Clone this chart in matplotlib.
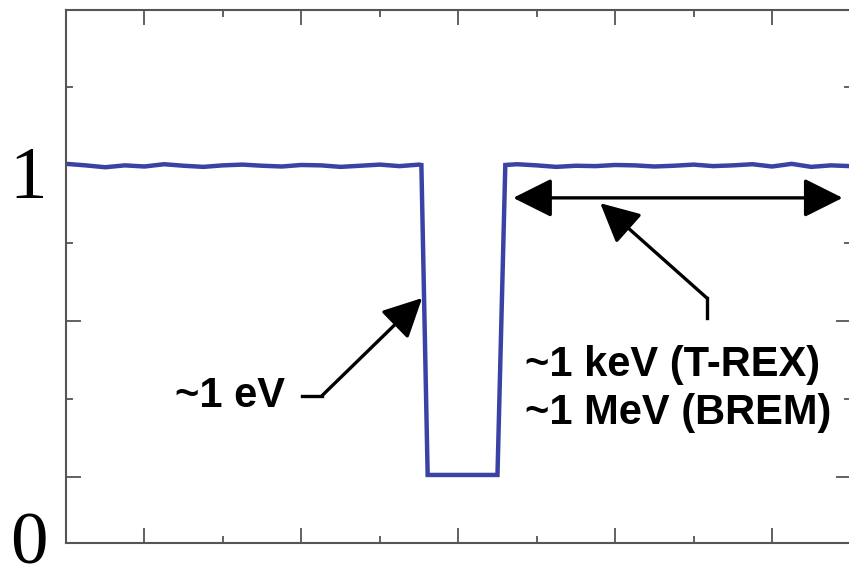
import matplotlib
matplotlib.use("Agg")
import matplotlib.pyplot as plt

# signal trace (arbitrary units)
left_x = [0.0, 0.25, 0.5, 0.75, 1.0, 1.25, 1.5, 1.75, 2.0, 2.25, 2.5, 2.75,
          3.0, 3.25, 3.5, 3.75, 4.0, 4.25, 4.5]
left_y = [1.003, 0.999, 0.994, 0.999, 0.996, 1.002, 0.998, 0.995, 0.999, 1.001,
          0.998, 0.996, 1.000, 0.999, 0.995, 0.998, 1.001, 0.997, 1.001]
dip_x = [4.53, 4.61, 5.50, 5.60]
dip_y = [1.000, 0.180, 0.180, 1.000]
right_x = [5.75, 6.0, 6.25, 6.5, 6.75, 7.0, 7.25, 7.5, 7.75, 8.0, 8.25, 8.5,
           8.75, 9.0, 9.25, 9.5, 9.75, 10.0]
right_y = [1.002, 0.999, 0.995, 0.998, 0.997, 1.000, 0.999, 0.996, 0.998,
           1.001, 0.997, 0.999, 1.002, 0.996, 1.003, 0.995, 0.999, 0.997]

xs = left_x + dip_x + right_x
ys = left_y + dip_y + right_y

fig = plt.figure(figsize=(8.49, 5.68), dpi=100)
ax = fig.add_axes([66 / 849, 1 - 543 / 568, (850.5 - 66) / 849, (543 - 10) / 568])

ax.plot(xs, ys, color="#3a42a6", lw=3.2, solid_joinstyle="miter")

ax.set_xlim(0, 10)
ax.set_ylim(0, 1.41)

# ticks: long / short alternating, pointing inward on all sides
ax.set_xticks([1, 3, 5, 7, 9])
ax.set_xticks([2, 4, 6, 8], minor=True)
ax.set_yticks([0.175, 0.587, 1.0])
ax.set_yticks([0.381, 0.794, 1.206], minor=True)
ax.tick_params(which="both", direction="in", top=True, right=True,
               labelleft=False, labelbottom=False, color="#555555", width=1.3)
ax.tick_params(which="major", length=11)
ax.tick_params(which="minor", length=5)
for s in ax.spines.values():
    s.set_color("#555555")
    s.set_linewidth(1.5)

# y labels in big serif font
fig.text(28 / 849, 1 - 198 / 568, "1", family="Liberation Serif", fontsize=54,
         ha="center", va="baseline")
fig.text(29 / 849, 1 - 564 / 568, "0", family="Liberation Serif", fontsize=54,
         ha="center", va="baseline")

afont = dict(family="Liberation Sans", weight="bold", fontsize=30)
aprops = dict(color="black", lw=2.4, mutation_scale=24, shrinkA=0, shrinkB=0)

# ~1 eV arrow
ax.text(2.79, 0.39, "~1 eV", ha="right", va="center", **afont)
ax.plot([3.01, 3.26], [0.389, 0.389], color="black", lw=2.4)
ax.annotate("", xy=(4.54, 0.648), xytext=(3.26, 0.389),
            arrowprops=dict(arrowstyle="-|>,head_length=1.0,head_width=0.5", **aprops))

# width arrow
ax.annotate("", xy=(9.90, 0.913), xytext=(5.70, 0.913),
            arrowprops=dict(arrowstyle="<|-|>,head_length=1.0,head_width=0.5", **aprops))
ax.plot([8.17, 8.17], [0.595, 0.648], color="black", lw=2.4)
ax.annotate("", xy=(6.81, 0.899), xytext=(8.17, 0.648),
            arrowprops=dict(arrowstyle="-|>,head_length=1.0,head_width=0.5", **aprops))
ax.text(5.85, 0.407, "~1 keV (T-REX)\n~1 MeV (BREM)", ha="left", va="center",
        linespacing=1.25, **afont)

fig.savefig("out.png", dpi=100)
